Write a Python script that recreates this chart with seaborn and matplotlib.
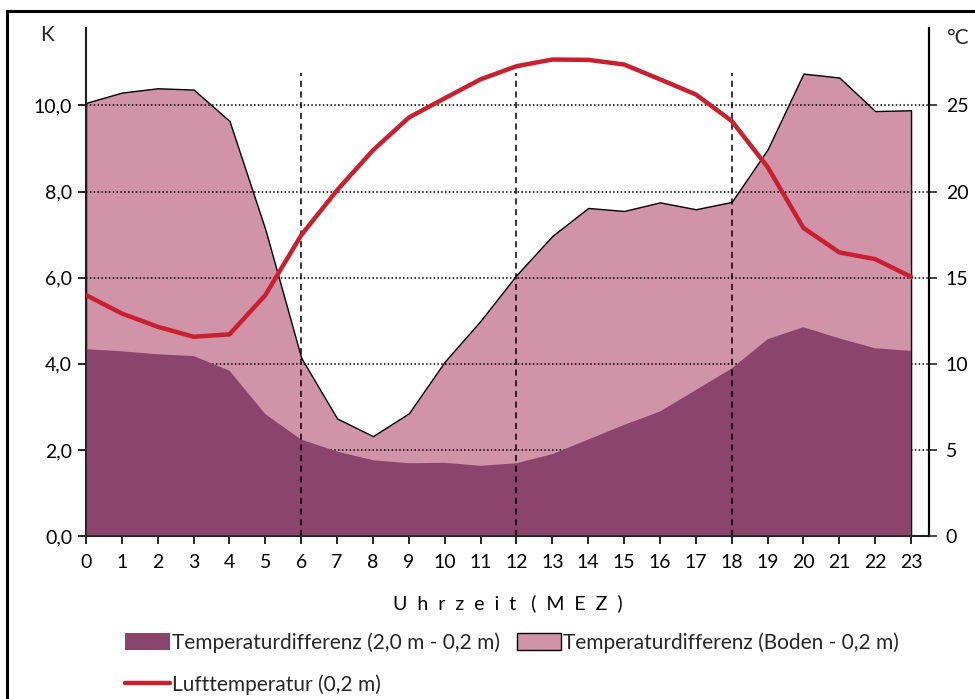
import numpy as np
import pandas as pd
import matplotlib
matplotlib.use("Agg")
import matplotlib.pyplot as plt
import seaborn as sns
from matplotlib.patches import Patch, Rectangle
from matplotlib.lines import Line2D

hours = list(range(24))
diff_boden = [10.06, 10.30, 10.40, 10.37, 9.64, 7.12, 4.14, 2.73, 2.32, 2.85,
              4.05, 5.00, 6.06, 6.97, 7.62, 7.55, 7.75, 7.59, 7.76, 8.98,
              10.74, 10.65, 9.87, 9.89]
diff_2m = [4.34, 4.29, 4.22, 4.18, 3.84, 2.83, 2.24, 1.96, 1.76, 1.69,
           1.70, 1.63, 1.69, 1.90, 2.24, 2.58, 2.89, 3.39, 3.89, 4.57,
           4.85, 4.59, 4.36, 4.30]
luft = [13.99, 12.92, 12.15, 11.57, 11.71, 13.99, 17.47, 20.08, 22.40, 24.30,
        25.42, 26.52, 27.28, 27.67, 27.65, 27.38, 26.52, 25.64, 24.10, 21.43,
        17.89, 16.47, 16.08, 15.05]
left_ticks = [0, 2, 4, 6, 8, 10]
left_labels = ["0,0", "2,0", "4,0", "6,0", "8,0", "10,0"]
right_ticks = [0, 5, 10, 15, 20, 25]
vlines_at = [6, 12, 18]
labels = ["Temperaturdifferenz (2,0 m - 0,2 m)",
          "Temperaturdifferenz (Boden - 0,2 m)",
          "Lufttemperatur (0,2 m)"]

DARK = "#8B456C"
LIGHT = "#D093A8"
RED = "#C8202F"

sns.set_theme(style="white")
plt.rcParams["font.family"] = ["Lato", "DejaVu Sans"]

df = pd.DataFrame({"h": hours, "boden": diff_boden, "m2": diff_2m, "luft": luft})

W, H = 975, 699
FS = 14
LFS = 15
fig = plt.figure(figsize=(W / 100, H / 100), dpi=100)
ax = fig.add_axes([86 / W, 1 - 536 / H, (929 - 86) / W, (536 - 28) / H])

ax.fill_between(df["h"], 0, df["boden"], facecolor=LIGHT, edgecolor="black",
                linewidth=1.0, zorder=1)
for v in left_ticks[1:]:
    ax.axhline(v, color="black", linestyle=(0, (1, 1.5)), linewidth=1.1, zorder=2)
ax.fill_between(df["h"], 0, df["m2"], facecolor=DARK, edgecolor="none", zorder=3)
ax.vlines(vlines_at, 0, 10.75, colors="black", linestyles=(0, (4, 3)),
          linewidth=1.1, zorder=4)

ax.set_xlim(0, 23.5)
ax.set_ylim(0, 11.8)
ax.set_xticks(hours)
ax.set_xticklabels([str(h) for h in hours])
ax.set_yticks(left_ticks)
ax.set_yticklabels(left_labels)
ax.spines["top"].set_visible(False)
for s in ["left", "bottom", "right"]:
    ax.spines[s].set_color("black")
    ax.spines[s].set_linewidth(1.5)
ax.tick_params(axis="both", which="both", direction="out", length=6, width=1.2,
               color="black", labelsize=FS, labelcolor="black", pad=4)
ax.tick_params(axis="x", pad=7)
ax.tick_params(left=True, bottom=True)
ax.set_xlabel("U  h  r  z  e  i  t   (  M  E  Z  )", fontsize=FS, labelpad=17,
              color="black")
ax.set_ylabel("")

ax2 = ax.twinx()
sns.lineplot(data=df, x="h", y="luft", ax=ax2, color=RED, linewidth=3.2,
             legend=False, zorder=10)
ax2.set_ylim(0, 29.5)
ax2.set_xlim(0, 23.5)
ax2.set_yticks(right_ticks)
ax2.set_yticklabels([str(t) for t in right_ticks])
ax2.set_ylabel("")
ax2.set_xlabel("")
ax2.spines["top"].set_visible(False)
ax2.spines["right"].set_color("black")
ax2.spines["right"].set_linewidth(1.5)
ax2.tick_params(axis="y", direction="out", length=6, width=1.2, right=True,
                labelsize=FS, labelcolor="black", pad=6)

fig.text(47 / W, 1 - 35 / H, "K", fontsize=FS + 1, ha="center", va="center")
fig.text(957 / W, 1 - 38 / H, "°C", fontsize=FS + 1, ha="center", va="center")

handles = [Patch(facecolor=DARK, edgecolor="none"),
           Line2D([0], [0], color=RED, linewidth=3.2),
           Patch(facecolor=LIGHT, edgecolor="black", linewidth=1.0)]
hl = [labels[0], labels[2], labels[1]]
fig.legend(handles, hl, ncol=2, loc="upper left",
           bbox_to_anchor=(125 / W, 1 - 632 / H), frameon=False,
           fontsize=LFS, handlelength=2.15, handleheight=0.85,
           handletextpad=0.1, columnspacing=0.8, labelspacing=1.05,
           borderaxespad=0, borderpad=0)

fig.patches.append(Rectangle((7 / W, -0.2), 1.5, 1 - 11 / H + 0.2,
                             transform=fig.transFigure, fill=False,
                             edgecolor="black", linewidth=2.2))

fig.savefig("out.png", dpi=100)
